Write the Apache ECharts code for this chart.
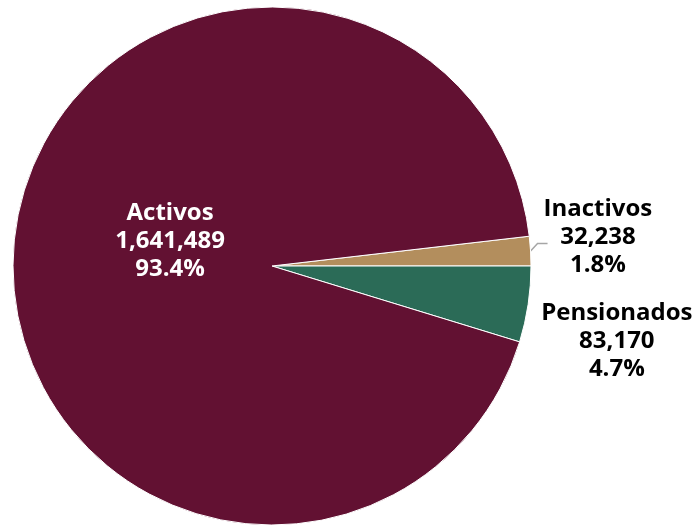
<!DOCTYPE html>
<html>
<head>
<meta charset="utf-8">
<script src="https://cdn.jsdelivr.net/npm/echarts@6/dist/echarts.min.js"></script>
<style>
  html, body { margin: 0; padding: 0; background: #ffffff; }
  #chart { width: 700px; height: 525px; }
</style>
</head>
<body>
<div id="chart"></div>
<script>
// Derechohabientes por tipo
const categories = ['Inactivos', 'Pensionados', 'Activos'];
const values = [32238, 83170, 1641489];
const colors = ['#B38E5D', '#2B6B57', '#621132'];

const total = values.reduce((a, b) => a + b, 0);
const fmt = n => n.toLocaleString('en-US');
const pct = n => (n / total * 100).toFixed(1) + '%';

const data = categories.map((name, i) => ({
  name,
  value: values[i],
  itemStyle: { color: colors[i] }
}));

// Activos: label inside, white; the two small slices: labels outside, dark
data[2].label = { position: 'inside', color: '#ffffff', rich: { t: { color: '#ffffff' } } };
data[1].labelLine = { show: false };

const textStyle = { align: 'center', fontFamily: 'Open Sans', fontWeight: 'bold', fontSize: 24, lineHeight: 28 };

const chart = echarts.init(document.getElementById('chart'));
chart.setOption({
  animation: false,
  series: [{
    type: 'pie',
    center: [272, 266],
    radius: 259,
    startAngle: values[0] / total * 360,
    clockwise: true,
    bleedMargin: -60,
    data,
    itemStyle: { borderColor: '#ffffff', borderWidth: 1 },
    label: {
      show: true,
      position: 'outside',
      overflow: 'none',
      edgeDistance: 0,
      color: '#000000',
      fontFamily: 'Open Sans',
      fontWeight: 'bold',
      fontSize: 24,
      lineHeight: 28,
      formatter: p => `{t|${p.name}}\n{t|${fmt(p.value)}}\n{t|${pct(p.value)}}`,
      rich: { t: textStyle }
    },
    labelLine: {
      show: true,
      length: 12,
      length2: 10,
      lineStyle: { color: '#a6a6a6', width: 1.5 }
    },
    labelLayout: p => {
      if (p.dataIndex === 2) return { dx: 30, dy: -13 };
      if (p.dataIndex === 1) return { dx: 0, dy: 5 };
      const pts = p.labelLinePoints;
      const out = { dx: -9, dy: -13 };
      if (pts) {
        out.labelLinePoints = [
          pts[0],
          [pts[1][0], pts[1][1] - 7],
          [pts[2][0], pts[2][1] - 7]
        ];
      }
      return out;
    }
  }]
});
</script>
</body>
</html>
